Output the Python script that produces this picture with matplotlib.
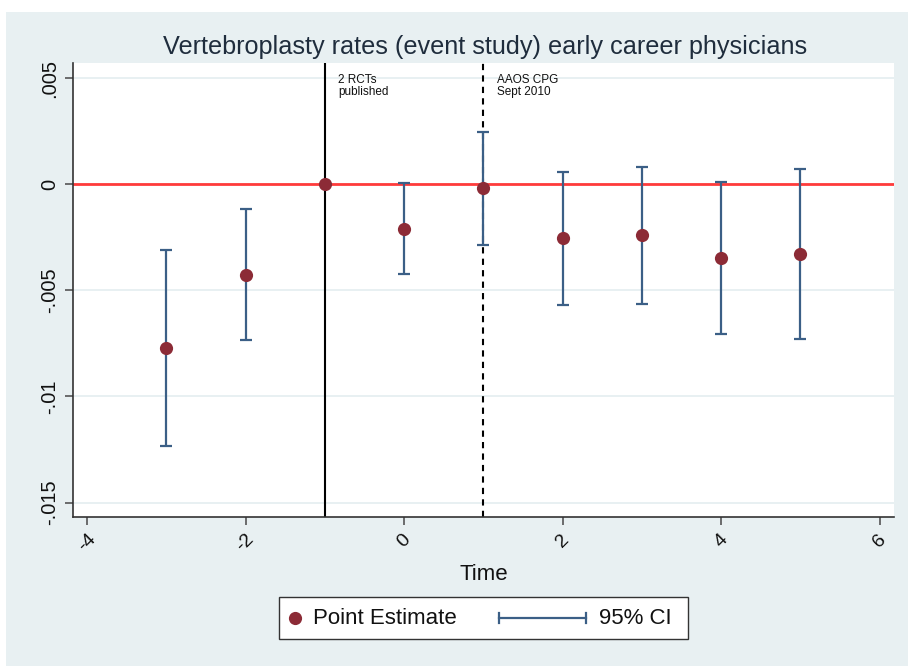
import matplotlib
matplotlib.use("Agg")
import matplotlib.pyplot as plt
from matplotlib.patches import Rectangle
from matplotlib.lines import Line2D
import numpy as np

plt.rcParams['font.family'] = ['Liberation Sans', 'DejaVu Sans']

# Data
time = [-3, -2, -1, 0, 1, 2, 3, 4, 5]
estimate = [-0.00774, -0.00426, 0.0, -0.00209, -0.00019, -0.00255, -0.00241, -0.00348, -0.00327]
ci_low = [-0.01234, -0.00736, 0.0, -0.00422, -0.00287, -0.00571, -0.00563, -0.00705, -0.00729]
ci_high = [-0.00310, -0.00115, 0.0, 0.00005, 0.00248, 0.00057, 0.00083, 0.00009, 0.00072]
yticks = [0.005, 0, -0.005, -0.01, -0.015]
ytick_labels = ['.005', '0', '-.005', '-.01', '-.015']
xticks = [-4, -2, 0, 2, 4, 6]
xtick_labels = ['-4', '-2', '0', '2', '4', '6']
event_lines = [-1, 1]
event_texts = ['2 RCTs\npublished', 'AAOS CPG\nSept 2010']
legend_labels = ['Point Estimate', '95% CI']

MARKER_C = '#8C2B36'
CI_C = '#3B5F86'

W, H = 908, 666
fig = plt.figure(figsize=(W / 100, H / 100), dpi=100)
fig.patch.set_facecolor('white')
bg = Rectangle((6 / W, 0), 1 - 6 / W, 1 - 12 / H, transform=fig.transFigure,
               facecolor='#E8F0F2', edgecolor='none', zorder=-10)
fig.patches.append(bg)

left, right, top, bottom = 73, 894, 63, 517
ax = fig.add_axes([left / W, 1 - bottom / H, (right - left) / W, (bottom - top) / H])
ax.set_facecolor('white')

ax.set_xlim(-4.177, 6.18)
ax.set_ylim(-0.01568, 0.00571)

for y in yticks:
    ax.axhline(y, color='#E4EEF0', lw=1.2, zorder=0)

ax.axhline(0, color='#FF3B3B', lw=2, zorder=1)
ax.axvline(event_lines[0], color='black', lw=1.5, zorder=1)
ax.axvline(event_lines[1], color='black', lw=1.5, ls=(0, (3, 2.5)), zorder=1)

for xv, txt in zip(event_lines, event_texts):
    ax.text(xv + 0.17, 0.0052, txt, fontsize=8.5, va='top', ha='left',
            color='#111111', linespacing=1.05)

t = np.array(time)
est = np.array(estimate)
lo = np.array(ci_low)
hi = np.array(ci_high)
mask = t != -1
ax.errorbar(t[mask], est[mask], yerr=[est[mask] - lo[mask], hi[mask] - est[mask]],
            fmt='none', ecolor=CI_C, elinewidth=1.6, capsize=4.3, capthick=1.6, zorder=3)
ax.plot(t, est, 'o', color=MARKER_C, markersize=9.5, markeredgewidth=0, zorder=4)

ax.set_yticks(yticks)
ax.set_yticklabels(ytick_labels, rotation=90, va='center', fontsize=14.5)
ax.set_xticks(xticks)
ax.set_xticklabels(xtick_labels, rotation=45, ha='center', fontsize=14)
ax.tick_params(axis='both', length=6, width=1.2, color='#555555', labelcolor='#111111', pad=4)

for s in ['top', 'right']:
    ax.spines[s].set_visible(False)
for s in ['left', 'bottom']:
    ax.spines[s].set_color('#333333')
    ax.spines[s].set_linewidth(1.2)

ax.set_xlabel('Time', fontsize=16, color='#111111', labelpad=6)
fig.text(485 / W, 1 - 47 / H, 'Vertebroplasty rates (event study) early career physicians',
         ha='center', va='center', fontsize=18.2, color='#1F2D3D')

# Legend (drawn manually in figure pixel coordinates)
def fx(px):
    return px / W

def fy(py):
    return 1 - py / H

lx0, lx1, ly0, ly1 = 279, 688, 597, 639
fig.patches.append(Rectangle((fx(lx0), fy(ly1)), fx(lx1) - fx(lx0), fy(ly0) - fy(ly1),
                             transform=fig.transFigure, facecolor='white',
                             edgecolor='#333333', lw=1.0, zorder=5))
ly = 618
fig.add_artist(Line2D([fx(295)], [fy(ly)], marker='o', color=MARKER_C, markersize=9.5,
                      markeredgewidth=0, ls='none', transform=fig.transFigure, zorder=6))
fig.text(fx(313), fy(ly), legend_labels[0], fontsize=16, va='center', ha='left',
         color='#111111', zorder=6)
fig.add_artist(Line2D([fx(499), fx(586)], [fy(ly), fy(ly)], color=CI_C, lw=1.6,
                      transform=fig.transFigure, zorder=6))
for cx in (499, 586):
    fig.add_artist(Line2D([fx(cx), fx(cx)], [fy(ly - 5), fy(ly + 5)], color=CI_C, lw=1.6,
                          transform=fig.transFigure, zorder=6))
fig.text(fx(599), fy(ly), legend_labels[1], fontsize=16, va='center', ha='left',
         color='#111111', zorder=6)

fig.savefig('out.png', dpi=100, facecolor=fig.get_facecolor())
